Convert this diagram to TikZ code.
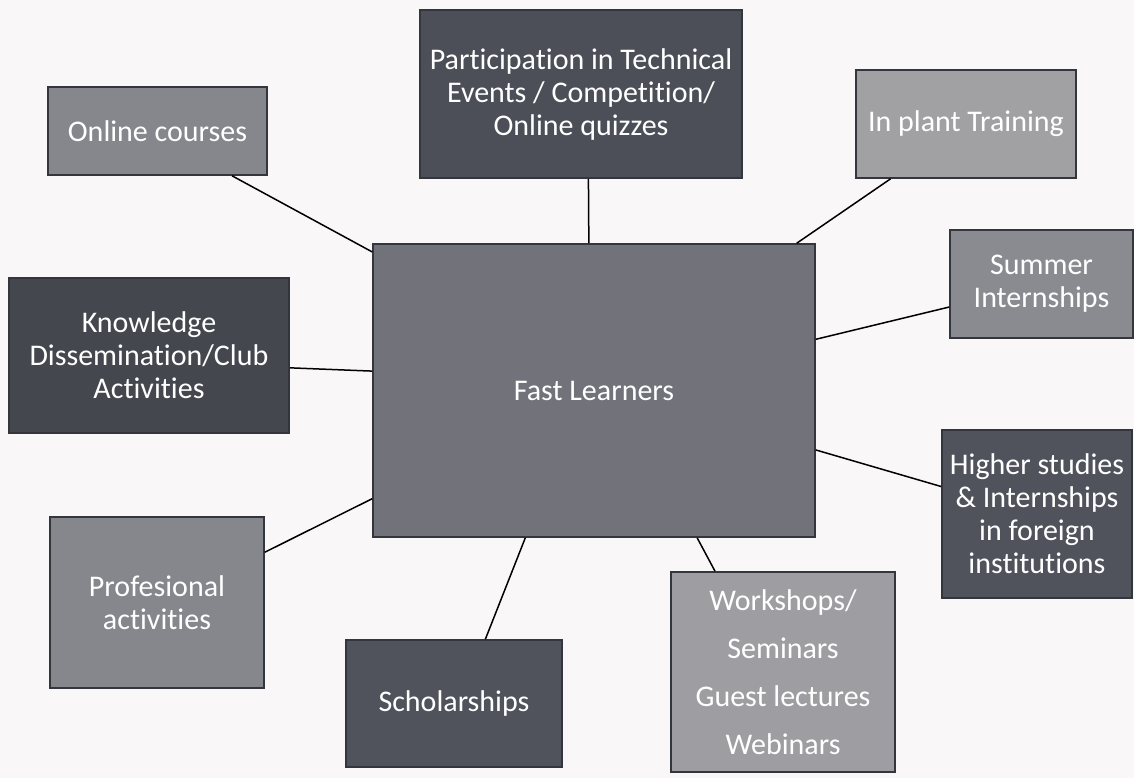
\documentclass[tikz,border=0pt]{standalone}
\usepackage{fontspec}
\setmainfont{Carlito}[Ligatures = NoCommon]
\usepackage{xcolor}
\definecolor{paperWhite}{HTML}{F9F7F7}
\definecolor{edgeGrey}{HTML}{34363D}
\definecolor{centreGrey}{HTML}{72737A}
\definecolor{darkGrey}{HTML}{50535C}
\definecolor{midGrey}{HTML}{86878C}
\definecolor{lightGrey}{HTML}{A1A1A4}
\usepackage{tikz}
\tikzset{box/.style = {draw = edgeGrey, line width = 0.8pt, text = white, align = center, inner sep = 0pt, font = \fontsize{15}{16.5}\selectfont}}
\tikzset{link/.style = {line width = 0.75pt, black}}

\begin{document}
\begin{tikzpicture}[x = 0.5pt, y = -0.5pt]
	\fill[paperWhite] (0, 0) rectangle (1134, 778);

	%% Centre
	\node[box, fill = centreGrey, minimum width = 221pt, minimum height = 146.5pt] (fast) at (594, 390.5) {Fast Learners};

	%% Top
	\node[box, fill = darkGrey!95!black, minimum width = 161pt, minimum height = 84pt] (part) at (581, 94) {Participation in Technical\\Events / Competition/\\Online quizzes};
	\node[box, fill = midGrey, minimum width = 109.5pt, minimum height = 44pt] (online) at (157.5, 131) {Online courses};
	\node[box, fill = lightGrey, minimum width = 110pt, minimum height = 54pt] (inplant) at (966, 124) {In plant Training};

	%% Sides
	\node[box, fill = midGrey!85!lightGrey, minimum width = 91.5pt, minimum height = 54pt] (summer) at (1041.5, 284) {Summer\\Internships};
	\node[box, fill = darkGrey!85!black, minimum width = 140pt, minimum height = 77.5pt] (know) at (149, 355.5) {Knowledge\\Dissemination/Club\\Activities};
	\node[box, fill = darkGrey, minimum width = 95pt, minimum height = 84pt] (higher) at (1037, 514) {Higher studies\\\& Internships\\in foreign\\institutions};

	%% Bottom
	\node[box, fill = midGrey, minimum width = 107pt, minimum height = 85.5pt] (prof) at (157, 602.5) {Profesional\\activities};
	\node[box, fill = darkGrey, minimum width = 108pt, minimum height = 63.5pt] (schol) at (454, 703.5) {Scholarships};
	\node[box, fill = lightGrey!90!midGrey, minimum width = 112pt, minimum height = 100pt, font = \fontsize{15}{24}\selectfont] (work) at (783, 672) {Workshops/\\Seminars\\Guest lectures\\Webinars};

	%% Links to the centre
	\draw[link] (online.-31.4) -- (fast.148.7);
	\draw[link] (part.-85.9) -- (fast.92.7);
	\draw[link] (inplant.216.5) -- (fast.36.2);
	\draw[link] (summer.194.7) -- (fast.13.4);
	\draw[link] (know.-5.1) -- (fast.175.5);
	\draw[link] (higher.164) -- (fast.-15.8);
	\draw[link] (prof.25.7) -- (fast.206.4);
	\draw[link] (schol.64) -- (fast.245.7);
	\draw[link] (work.124.6) -- (fast.-55.4);
\end{tikzpicture}
\end{document}
